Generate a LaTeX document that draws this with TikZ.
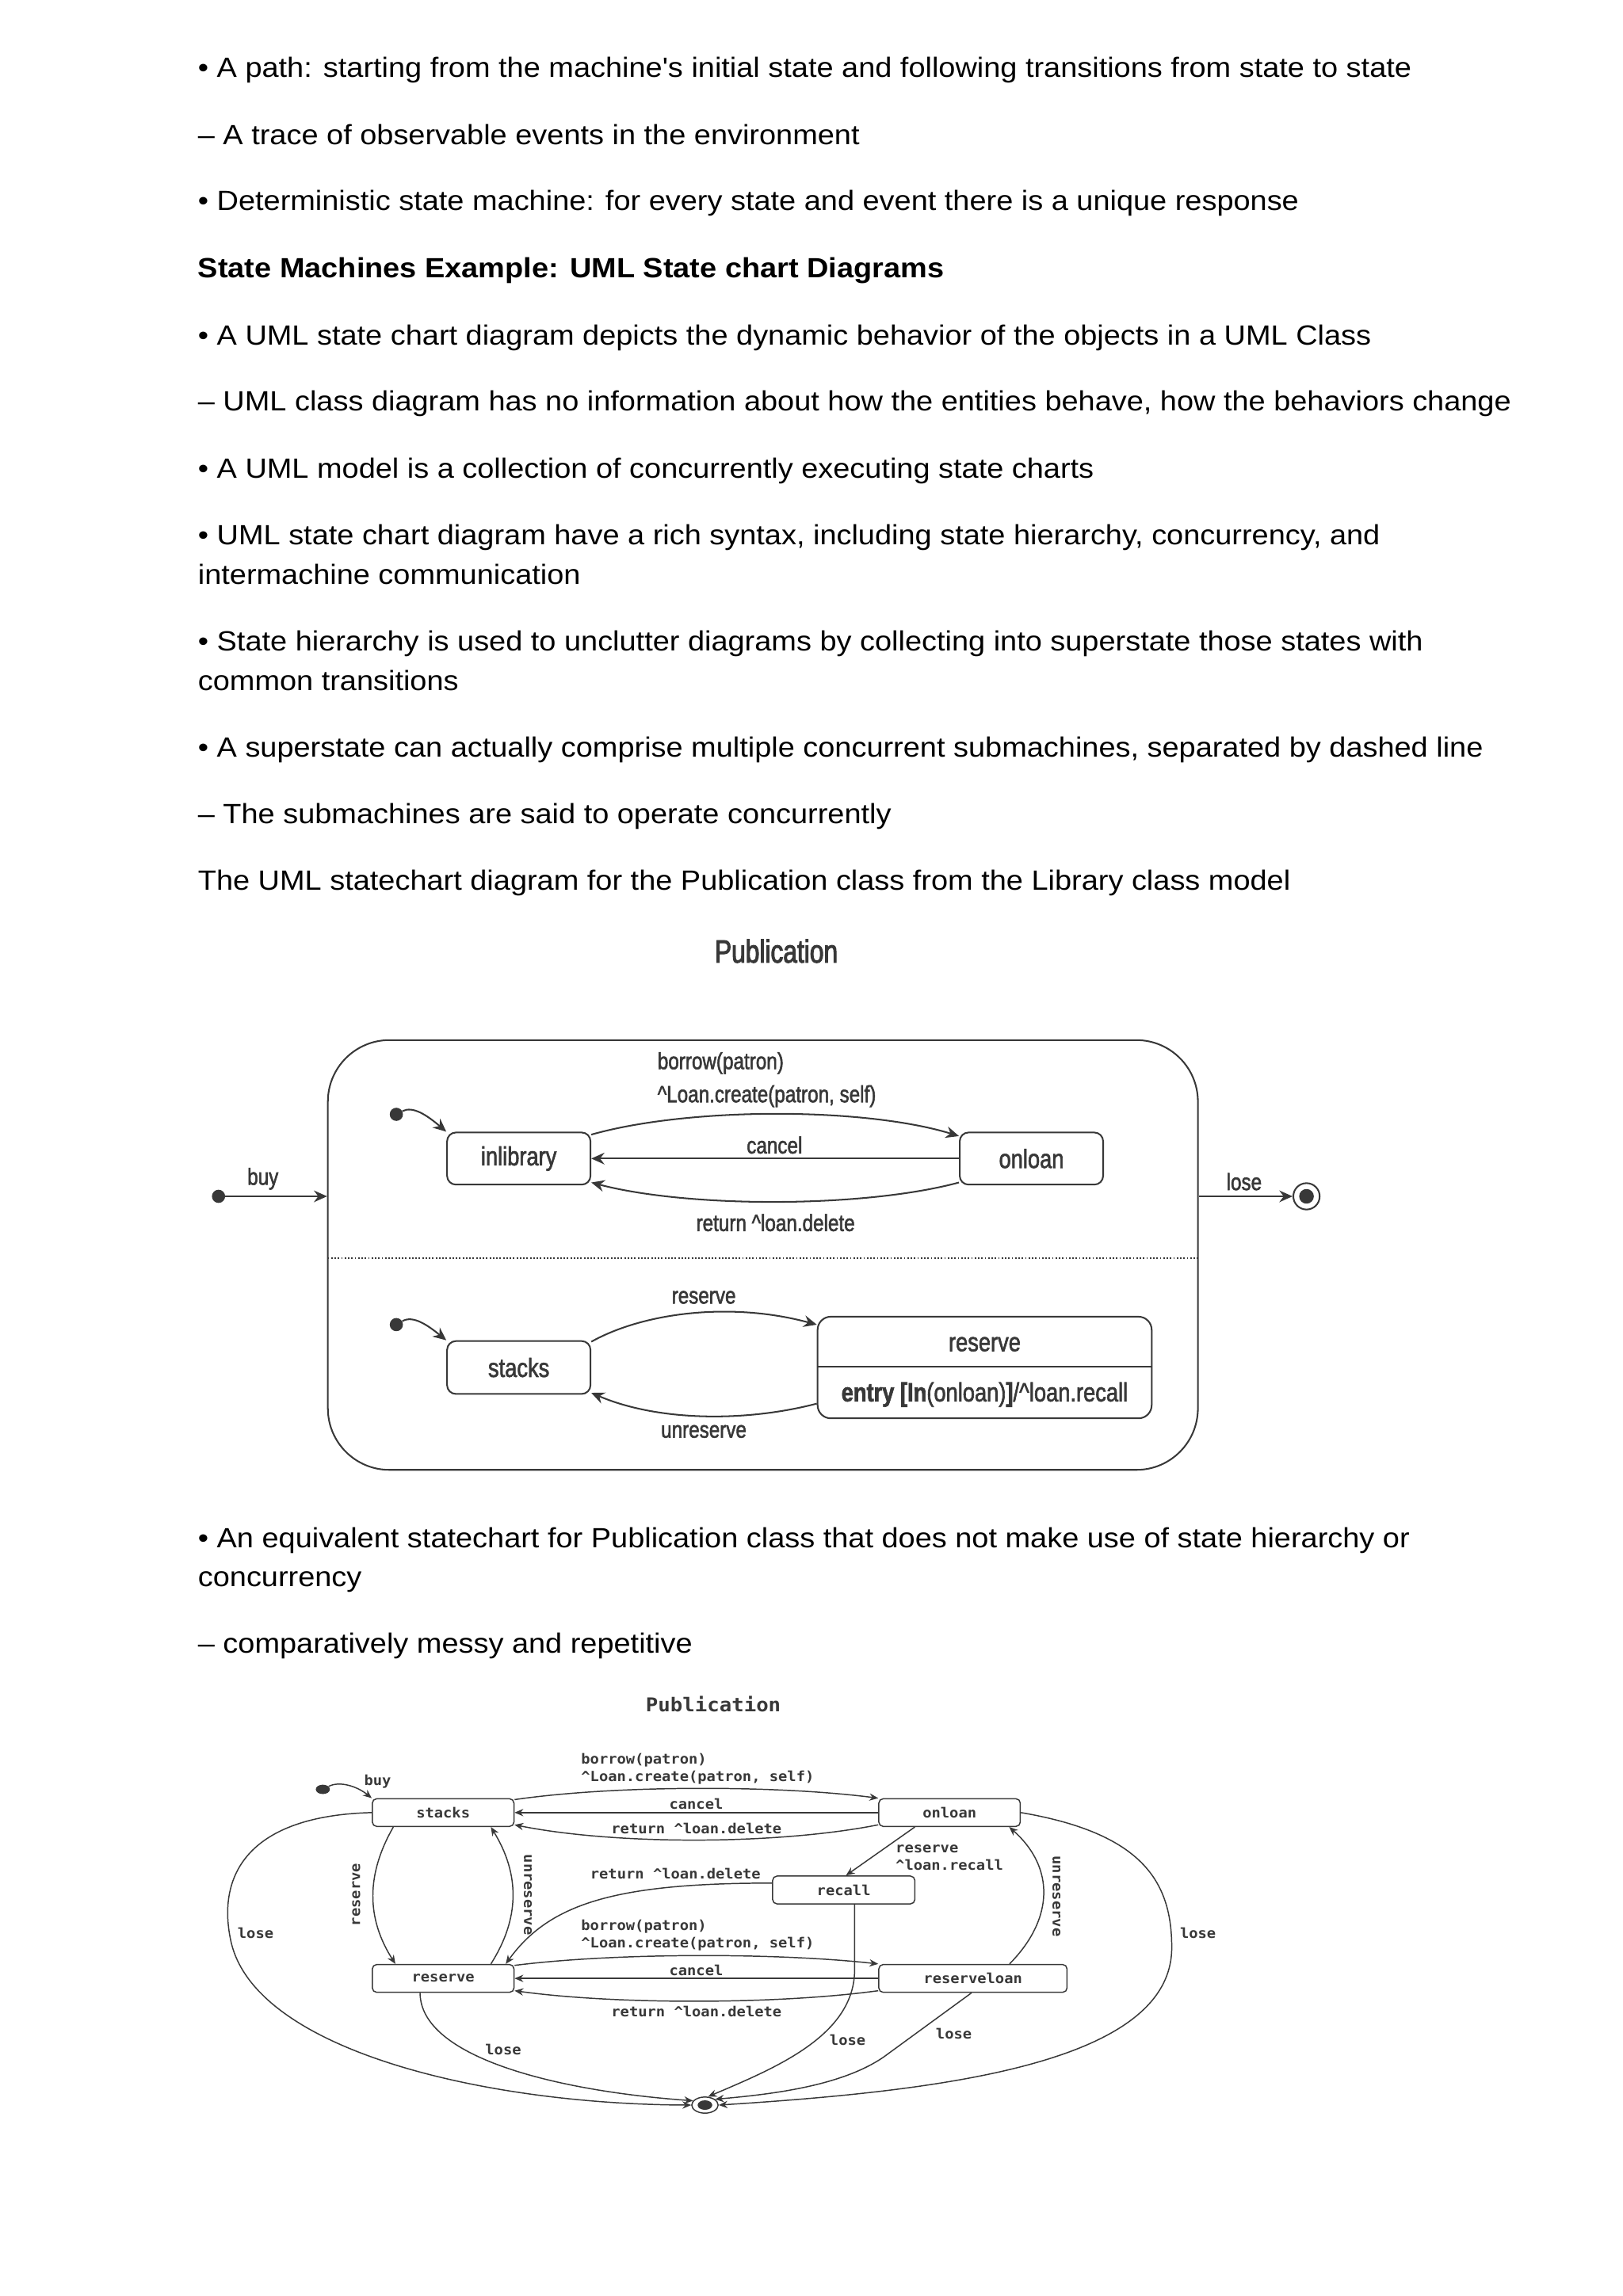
\documentclass[tikz,border=0pt]{standalone}
\usepackage{fontspec}
\setmainfont[FakeStretch=1.08,Ligatures=TeXOff]{Liberation Sans}
\newfontfamily\dfont[FakeStretch=0.82,FakeBold=1.8]{Liberation Sans}
\newfontfamily\tfont[FakeStretch=0.78,FakeBold=2.4]{Liberation Sans}
\newfontfamily\mfont[FakeStretch=1.07]{DejaVu Sans Mono}
\usetikzlibrary{arrows.meta,shapes.geometric}
\definecolor{ink}{HTML}{383838}
\begin{document}
\begin{tikzpicture}[x=1pt,y=-1pt,
  body/.style={anchor=base west,inner sep=0pt,font=\fontsize{19}{23}\selectfont},
  st1/.style={draw=ink,line width=1.1pt,rounded corners=6pt,inner sep=0pt,text=ink,font=\dfont\fontsize{18}{20}\selectfont},
  lab1/.style={inner sep=0pt,text=ink,font=\dfont\fontsize{16}{18}\selectfont},
  blab1/.style={inner sep=0pt,text=ink,font=\dfont\fontsize{18}{20}\selectfont},
  tr1/.style={draw=ink,line width=1.1pt,-{Stealth[length=9pt,width=8pt,inset=3pt]}},
  dot1/.style={circle,fill=ink,inner sep=0pt,minimum size=9pt},
  st2/.style={draw=ink,line width=0.8pt,rounded corners=3pt,inner sep=0pt,text=ink,font=\mfont\bfseries\fontsize{9.5}{11}\selectfont},
  lab2/.style={inner sep=0pt,text=ink,font=\mfont\bfseries\fontsize{9.5}{11}\selectfont},
  tr2/.style={draw=ink,line width=0.8pt,-{Stealth[length=6pt,width=5pt,inset=2pt]}},
  ln2/.style={draw=ink,line width=0.8pt}]
\fill[white] (0,0) rectangle (1108,1568);
\useasboundingbox (0,0) rectangle (1108,1568);

% ---------------- body text
\node[body] (t1) at (135,52.5) {• A path: starting from the machine's initial state and following transitions from state to state};
\node[body] (t2) at (135,98.5) {– A trace of observable events in the environment};
\node[body] (t3) at (135,143.5) {• Deterministic state machine: for every state and event there is a unique response};
\node[body,font=\bfseries\fontsize{19}{23}\selectfont] (t4) at (135,189.5) {State Machines Example: UML State chart Diagrams};
\node[body] (t5) at (135,235.5) {• A UML state chart diagram depicts the dynamic behavior of the objects in a UML Class};
\node[body] (t6) at (135,280.5) {– UML class diagram has no information about how the entities behave, how the behaviors change};
\node[body] (t7) at (135,326.5) {• A UML model is a collection of concurrently executing state charts};
\node[body] (t8) at (135,372) {• UML state chart diagram have a rich syntax, including state hierarchy, concurrency, and};
\node[body] (t8b) at (135,399) {intermachine communication};
\node[body] (t9) at (135,444.5) {• State hierarchy is used to unclutter diagrams by collecting into superstate those states with};
\node[body] (t9b) at (135,471.5) {common transitions};
\node[body] (t10) at (135,517) {• A superstate can actually comprise multiple concurrent submachines, separated by dashed line};
\node[body] (t11) at (135,562.5) {– The submachines are said to operate concurrently};
\node[body] (t12) at (135,608) {The UML statechart diagram for the Publication class from the Library class model};
\node[body] (t13) at (135,1057) {• An equivalent statechart for Publication class that does not make use of state hierarchy or};
\node[body] (t13b) at (135,1083.5) {concurrency};
\node[body] (t14) at (135,1129) {– comparatively messy and repetitive};

% ---------------- diagram 1
\node[inner sep=0pt,text=ink,font=\tfont\fontsize{22}{24}\selectfont] (title1) at (530,649.5) {Publication};
\node[draw=ink,line width=1.1pt,rounded corners=42pt,minimum width=594pt,minimum height=293.5pt,inner sep=0pt] (super) at (520.85,857.05) {};
\coordinate (divl) at (223.8,859);
\coordinate (divr) at (817.9,859);
\draw[ink,line width=1.1pt,dash pattern=on 1pt off 1.3pt] (divl) -- (divr);

\node[st1,minimum width=97.9pt,minimum height=35.6pt] (inlib) at (354.2,791.2) {inlibrary};
\node[st1,minimum width=97.9pt,minimum height=35.6pt] (onloan) at (704.2,791.2) {onloan};
\node[st1,minimum width=97.9pt,minimum height=36.1pt] (stacks) at (354.2,933.9) {stacks};
\node[st1,rounded corners=9pt,minimum width=228.1pt,minimum height=69.4pt] (rs) at (672.25,933.9) {};
\coordinate (rsdl) at (558.2,933.4);
\coordinate (rsdr) at (786.3,933.4);
\draw[ink,line width=1.1pt] (rsdl) -- (rsdr);
\node[blab1] (rsname) at (672.25,918) {reserve};
\node[blab1] (rsentry) at (672.25,952.4) {\textbf{entry [In}(onloan)\textbf{]}/\textasciicircum loan.recall};

\node[dot1] (i1) at (270.6,761) {};
\node[dot1] (i2) at (270.6,904.6) {};
\node[dot1] (buydot) at (149.2,817) {};
\node[circle,draw=ink,line width=1.1pt,minimum size=18pt,inner sep=0pt] (fin1) at (892,817) {};
\node[circle,fill=ink,minimum size=10pt,inner sep=0pt] (fin1in) at (892,817) {};

\draw[tr1] (i1) .. controls (282,755) and (292,762) .. (inlib.north west);
\draw[tr1] (i2) .. controls (282,898) and (292,905) .. (stacks.north west);
\draw[tr1] (buydot) -- (super.west |- buydot);
\draw[tr1] (super.east |- fin1) -- (fin1);
\draw[tr1] ([yshift=-2pt]inlib.north east) .. controls (470,756) and (590,756) .. ([yshift=-3pt]onloan.north west);
\draw[tr1] (onloan.west) -- (inlib.east);
\draw[tr1] ([yshift=2pt]onloan.south west) .. controls (590,825) and (470,825) .. ([yshift=2pt]inlib.south east);
\draw[tr1] ([yshift=-1pt]stacks.north east) .. controls (440,896) and (500,889) .. ([yshift=-6pt]rs.north west);
\draw[tr1] ([yshift=10.6pt]rs.south west) .. controls (510,971) and (450,971) .. ([yshift=1.3pt]stacks.south east);

\node[lab1] (lbuy) at (179.5,805) {buy};
\node[lab1] (llose) at (849.4,807) {lose};
\node[lab1,anchor=west] (lb1) at (448.8,726) {borrow(patron)};
\node[lab1,anchor=west] (lb2) at (448.8,748.6) {\textasciicircum Loan.create(patron, self)};
\node[lab1] (lcancel) at (528.8,782) {cancel};
\node[lab1] (lret) at (529.5,835) {return \textasciicircum loan.delete};
\node[lab1] (lres) at (480.5,886) {reserve};
\node[lab1] (lunres) at (480.5,977.6) {unreserve};

% ---------------- diagram 2
\node[inner sep=0pt,text=ink,font=\mfont\bfseries\fontsize{13}{15}\selectfont] (title2) at (487,1163.5) {Publication};
\node[st2,minimum width=96.7pt,minimum height=18.9pt] (stacks2) at (302.55,1237.85) {stacks};
\node[st2,minimum width=96.6pt,minimum height=18.9pt] (onloan2) at (648.3,1237.85) {onloan};
\node[st2,minimum width=97.1pt,minimum height=19pt] (recall) at (576.05,1290.7) {recall};
\node[st2,minimum width=96.7pt,minimum height=19pt] (reserve2) at (302.55,1351.1) {reserve};
\node[st2,minimum width=128.5pt,minimum height=19pt] (resloan) at (664.25,1351.1) {reserveloan};
\node[ellipse,fill=ink,minimum width=9.6pt,minimum height=6.4pt,inner sep=0pt] (i3) at (220.4,1222) {};
\node[ellipse,draw=ink,line width=0.8pt,minimum width=18pt,minimum height=11pt,inner sep=0pt] (fin2) at (481.3,1437.6) {};
\node[ellipse,fill=ink,minimum width=10pt,minimum height=6.5pt,inner sep=0pt] (fin2in) at (481.3,1437.6) {};

\draw[tr2] (i3) .. controls (232,1216) and (244,1220) .. (stacks2.north west);
\draw[tr2] ([yshift=-1pt]stacks2.north east) .. controls (420,1219) and (530,1219) .. (onloan2.north west);
\draw[tr2] (onloan2.west) -- (stacks2.east);
\draw[tr2] ([yshift=1.5pt]onloan2.south west) .. controls (530,1260) and (420,1260) .. ([yshift=1.5pt]stacks2.south east);
\draw[tr2] ([yshift=-1pt]reserve2.north east) .. controls (420,1333.5) and (530,1333.5) .. (resloan.north west);
\draw[tr2] (resloan.west) -- (reserve2.east);
\draw[tr2] ([yshift=1.5pt]resloan.south west) .. controls (530,1369) and (420,1369) .. ([yshift=1.5pt]reserve2.south east);
\draw[tr2] ([yshift=4.7pt]recall.west) .. controls (420,1286) and (375,1300) .. ([xshift=-6pt]reserve2.north east);
\draw[tr2] ([xshift=-23.7pt]onloan2.south) -- ([xshift=1.5pt]recall.north);
\draw[tr2] ([xshift=-34pt]stacks2.south) .. controls (250,1280) and (250,1310) .. ([xshift=-32.6pt]reserve2.north);
\draw[tr2] ([xshift=32.6pt]reserve2.north) .. controls (355,1310) and (355,1280) .. ([xshift=32.6pt]stacks2.south);
\draw[tr2] ([xshift=25pt]resloan.north) .. controls (720,1310) and (720,1275) .. ([xshift=-8pt]onloan2.south east);
% lose transitions
\draw[tr2] (stacks2.west) .. controls (170,1240) and (148,1280) .. (157.5,1325) .. controls (173,1400) and (330,1437) .. (fin2.west);
\draw[tr2] ([xshift=-15.75pt]reserve2.south) .. controls (287,1405) and (380,1428) .. (fin2.160);
\draw[tr2] ([xshift=7.45pt]recall.south) -- (583.5,1345) .. controls (583.5,1390) and (530,1412) .. (fin2.70);
\draw[tr2] ([xshift=-1pt]resloan.south) -- (603,1405) .. controls (575,1424) and (530,1430) .. (fin2.30);
\draw[tr2] (onloan2.east) .. controls (780,1252) and (800,1285) .. (800,1330) .. controls (800,1410) and (640,1428) .. (fin2.east);

\node[lab2] (l2buy) at (257.8,1216.6) {buy};
\node[lab2,anchor=west] (l2b1) at (396.6,1202) {borrow(patron)};
\node[lab2,anchor=west] (l2b2) at (396.6,1214) {\textasciicircum Loan.create(patron, self)};
\node[lab2] (l2c1) at (475.3,1232) {cancel};
\node[lab2] (l2r1) at (475.5,1249) {return \textasciicircum loan.delete};
\node[lab2,anchor=west] (l2r3) at (402.8,1279.8) {return \textasciicircum loan.delete};
\node[lab2,anchor=west] (l2rr1) at (611.3,1262.6) {reserve};
\node[lab2,anchor=west] (l2rr2) at (611.3,1273.8) {\textasciicircum loan.recall};
\node[lab2,anchor=west] (l2b3) at (396.6,1315.9) {borrow(patron)};
\node[lab2,anchor=west] (l2b4) at (396.6,1327.5) {\textasciicircum Loan.create(patron, self)};
\node[lab2] (l2c2) at (475.3,1345.6) {cancel};
\node[lab2] (l2r2) at (475.5,1373.6) {return \textasciicircum loan.delete};
\node[lab2,rotate=90] (l2res) at (243.3,1294) {reserve};
\node[lab2,rotate=-90] (l2unr1) at (360.5,1294) {unreserve};
\node[lab2,rotate=-90] (l2unr2) at (721.3,1295) {unreserve};
\node[lab2] (l2l1) at (174.5,1320.4) {lose};
\node[lab2] (l2l2) at (343.6,1399.7) {lose};
\node[lab2] (l2l3) at (578.7,1393.4) {lose};
\node[lab2] (l2l4) at (651.2,1388.9) {lose};
\node[lab2] (l2l5) at (817.9,1320.4) {lose};
\end{tikzpicture}
\end{document}
